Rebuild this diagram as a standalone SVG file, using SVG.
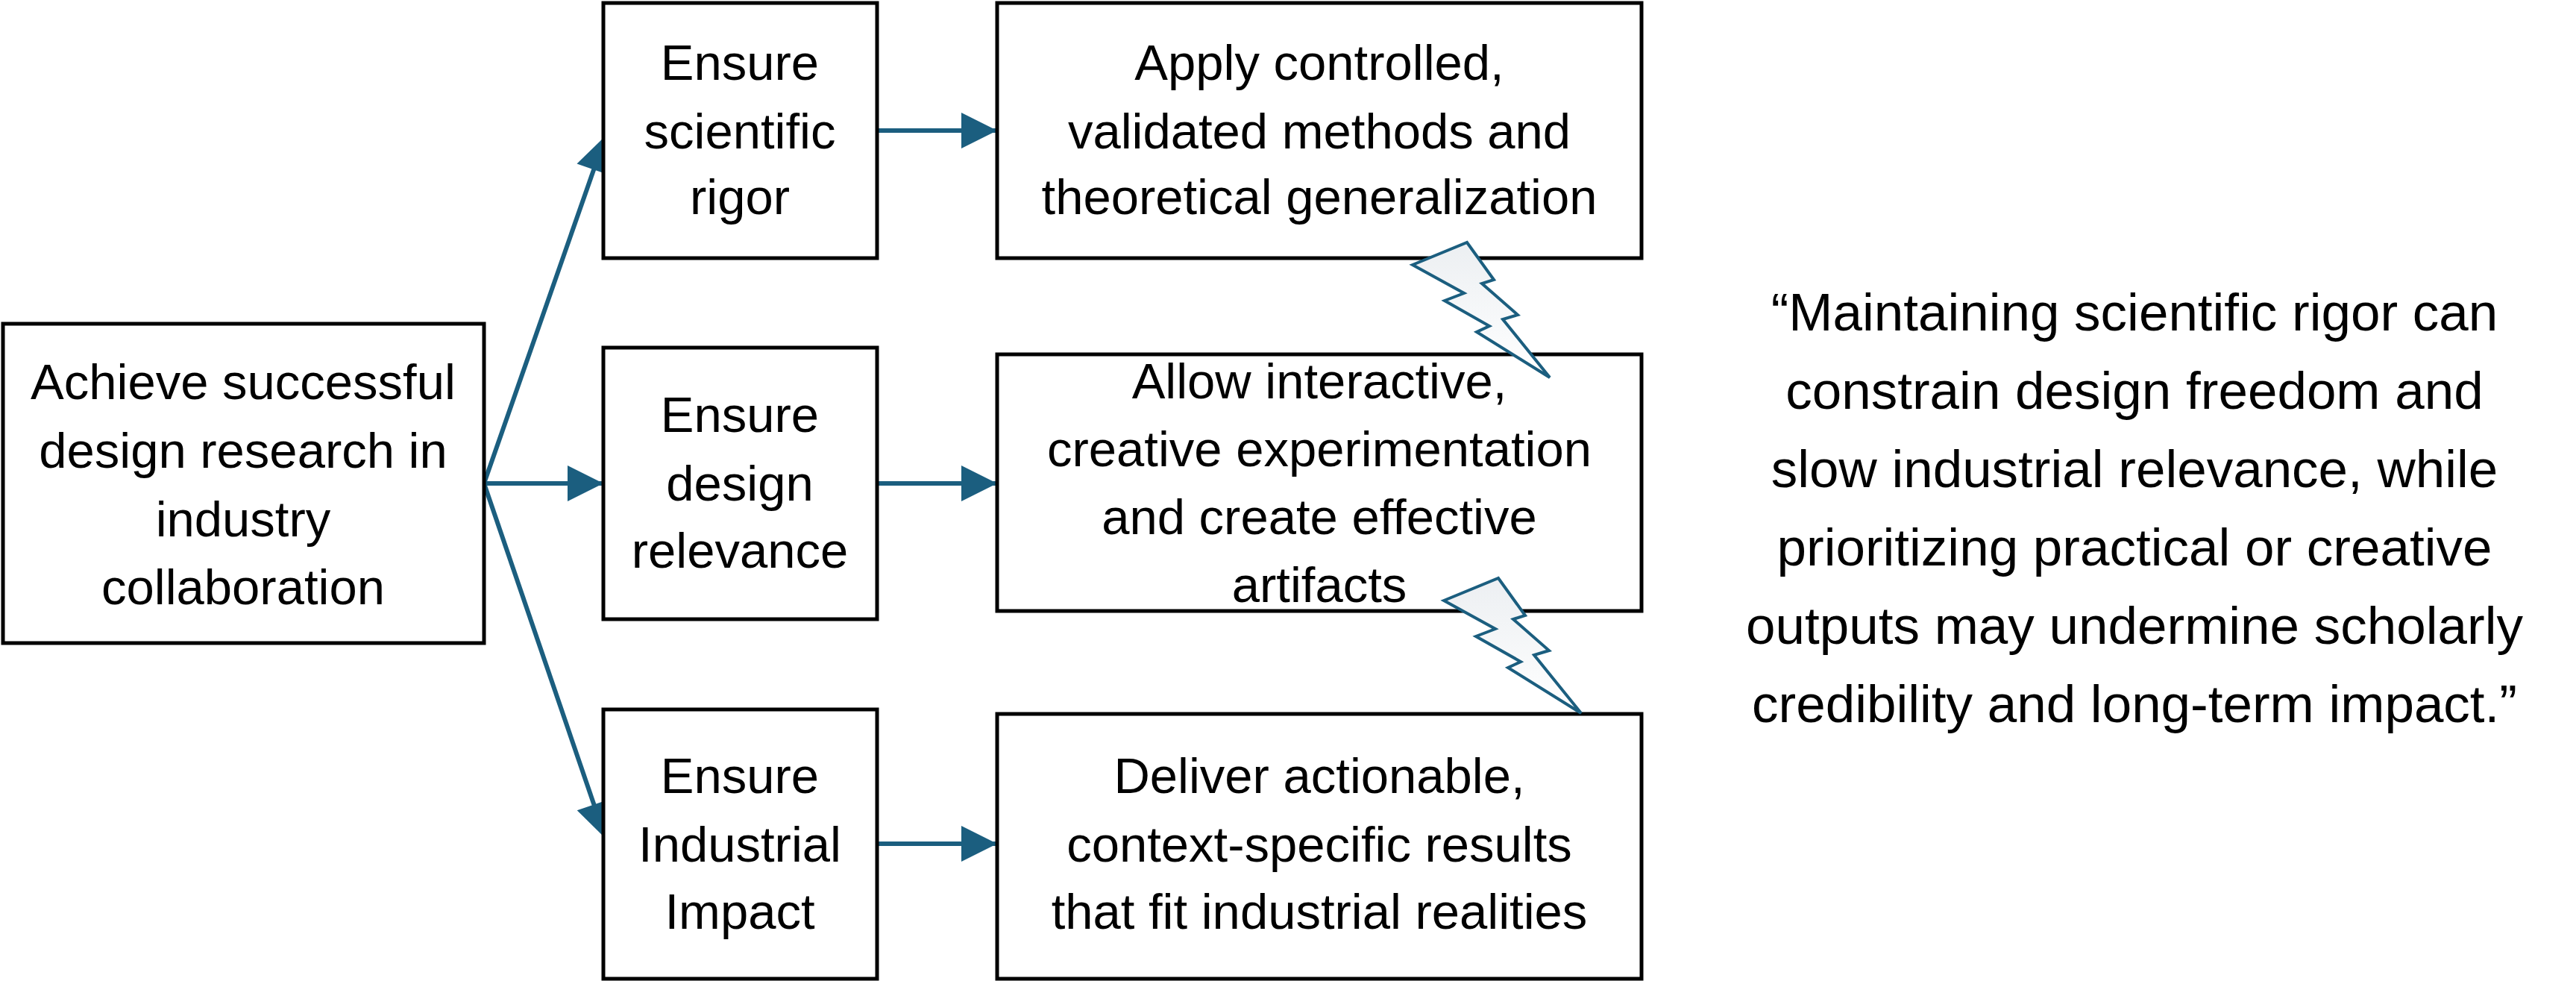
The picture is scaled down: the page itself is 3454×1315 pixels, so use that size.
<svg xmlns="http://www.w3.org/2000/svg" width="3454" height="1315" viewBox="0 0 3454 1315">
<style>
.box{fill:#fff;stroke:#000;stroke-width:5}
.t{font-family:"Liberation Sans",Arial,sans-serif;font-size:67px;fill:#000;text-anchor:middle}
.q{font-size:71px}
.c{stroke:#1b5e7f;stroke-width:6;fill:none}
.bolt{fill:url(#g);stroke:#1b5e7f;stroke-width:4}
</style>
<defs>
<marker id="ah" viewBox="0 0 10 10" refX="10" refY="5" markerWidth="50" markerHeight="48" markerUnits="userSpaceOnUse" orient="auto">
<path d="M0,0 L10,5 L0,10 Z" fill="#1b5e7f"/>
</marker>
<linearGradient id="g" x1="0" y1="0" x2="0" y2="1"><stop offset="0" stop-color="#eceff2"/><stop offset="1" stop-color="#ffffff"/></linearGradient>
</defs>
<g id="connectors">
<path class="c" d="M649,648 L812,182" marker-end="url(#ah)"/>
<path class="c" d="M649,648 L809,648" marker-end="url(#ah)"/>
<path class="c" d="M649,648 L812,1124" marker-end="url(#ah)"/>
<path class="c" d="M1176,175 L1337,175" marker-end="url(#ah)"/>
<path class="c" d="M1176,648 L1337,648" marker-end="url(#ah)"/>
<path class="c" d="M1176,1131 L1337,1131" marker-end="url(#ah)"/>
</g>
<g id="n-main"><rect class="box" x="4" y="434" width="645" height="428"/>
<text class="t" x="326" y="535">Achieve successful</text><text class="t" x="326" y="627">design research in</text><text class="t" x="326" y="719">industry</text><text class="t" x="326" y="810">collaboration</text></g>
<g id="n-rigor"><rect class="box" x="809" y="4" width="367" height="342"/>
<text class="t" x="992" y="107">Ensure</text><text class="t" x="992" y="199">scientific</text><text class="t" x="992" y="287">rigor</text></g>
<g id="n-relevance"><rect class="box" x="809" y="466" width="367" height="364"/>
<text class="t" x="992" y="579">Ensure</text><text class="t" x="992" y="671">design</text><text class="t" x="992" y="761">relevance</text></g>
<g id="n-impact"><rect class="box" x="809" y="951" width="367" height="361"/>
<text class="t" x="992" y="1063">Ensure</text><text class="t" x="992" y="1155">Industrial</text><text class="t" x="992" y="1245">Impact</text></g>
<g id="n-apply"><rect class="box" x="1337" y="4" width="864" height="342"/>
<text class="t" x="1769" y="107">Apply controlled,</text><text class="t" x="1769" y="199">validated methods and</text><text class="t" x="1769" y="287">theoretical generalization</text></g>
<g id="n-allow"><rect class="box" x="1337" y="475" width="864" height="344"/>
<text class="t" x="1769" y="534">Allow interactive,</text><text class="t" x="1769" y="625">creative experimentation</text><text class="t" x="1769" y="716">and create effective</text><text class="t" x="1769" y="807">artifacts</text></g>
<g id="n-deliver"><rect class="box" x="1337" y="957" width="864" height="355"/>
<text class="t" x="1769" y="1063">Deliver actionable,</text><text class="t" x="1769" y="1155">context-specific results</text><text class="t" x="1769" y="1245">that fit industrial realities</text></g>
<g id="bolt1"><polygon class="bolt" points="1894,355 1967,325 2003,375 1987,380 2035,422 2015,428 2078,506 1980,445 1997,437 1937,403 1963,393"/></g>
<g id="bolt2"><polygon class="bolt" points="1936,805 2009,775 2045,825 2029,830 2077,872 2057,878 2120,956 2022,895 2039,887 1979,853 2005,843"/></g>
<g id="quote">
<text class="t q" x="2862" y="443">“Maintaining scientific rigor can</text>
<text class="t q" x="2862" y="548">constrain design freedom and</text>
<text class="t q" x="2862" y="653">slow industrial relevance, while</text>
<text class="t q" x="2862" y="758">prioritizing practical or creative</text>
<text class="t q" x="2862" y="863">outputs may undermine scholarly</text>
<text class="t q" x="2862" y="968">credibility and long-term impact.”</text>
</g>
</svg>
